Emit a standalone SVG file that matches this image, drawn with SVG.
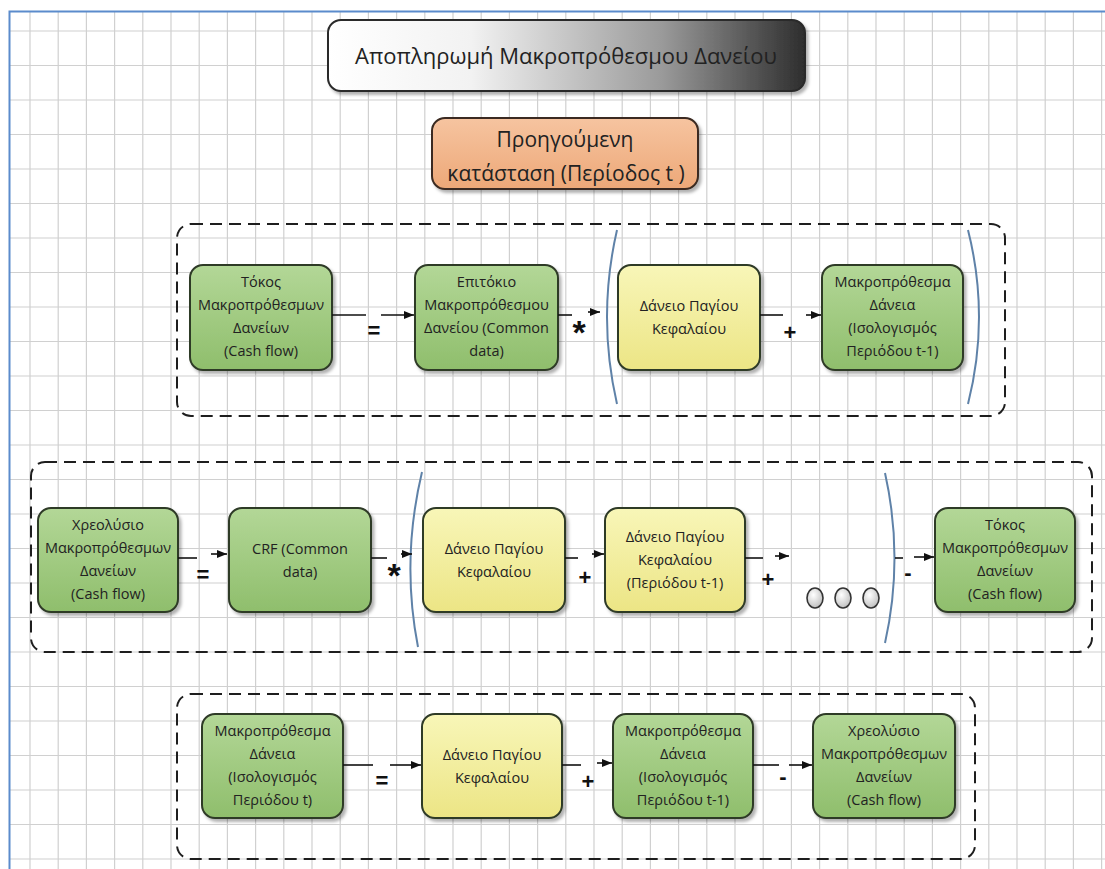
<svg xmlns="http://www.w3.org/2000/svg" width="1105" height="869" viewBox="0 0 1105 869">
<defs>
<style>
.grid{stroke:#d0d0d0;stroke-width:1.2;fill:none}
.node{stroke:#2f3a28;stroke-width:2}
.green{fill:url(#gGreen)}
.yellow{fill:url(#gYellow)}
.t{font-family:"Open Sans","Noto Sans",sans-serif;font-size:14.5px;fill:#222;text-anchor:middle}
.big{font-family:"Open Sans","Noto Sans",sans-serif;font-size:21px;fill:#222;text-anchor:middle}
.frame{fill:none;stroke:#1e1e1e;stroke-width:2;stroke-dasharray:12 7}
.paren{fill:none;stroke:#5f82a8;stroke-width:2}
.conn{fill:none;stroke:#111;stroke-width:1.6}
.arr{marker-end:url(#ah)}
.op{font-family:"Liberation Sans",Arial,sans-serif;font-weight:bold;font-size:22px;fill:#111;text-anchor:middle}
.star{font-family:"Liberation Sans",Arial,sans-serif;font-weight:bold;font-size:34px;fill:#111;text-anchor:middle}
</style>
<linearGradient id="gGreen" x1="0" y1="0" x2="0" y2="1">
<stop offset="0" stop-color="#b3d797"/><stop offset="1" stop-color="#8fbe6c"/>
</linearGradient>
<linearGradient id="gYellow" x1="0" y1="0" x2="0" y2="1">
<stop offset="0" stop-color="#f8f6b8"/><stop offset="1" stop-color="#ece585"/>
</linearGradient>
<linearGradient id="gTitle" x1="0" y1="0" x2="1" y2="0">
<stop offset="0" stop-color="#ffffff"/><stop offset="0.3" stop-color="#f2f2f2"/><stop offset="0.7" stop-color="#9a9a9a"/><stop offset="1" stop-color="#2e2e2e"/>
</linearGradient>
<linearGradient id="gOrange" x1="0" y1="0" x2="0" y2="1">
<stop offset="0" stop-color="#f6c4a0"/><stop offset="1" stop-color="#eda878"/>
</linearGradient>
<radialGradient id="gDot" cx="0.4" cy="0.35" r="0.7">
<stop offset="0" stop-color="#ffffff"/><stop offset="1" stop-color="#bdbdbd"/>
</radialGradient>
<filter id="sh" x="-10%" y="-10%" width="125%" height="130%">
<feDropShadow dx="2.5" dy="3" stdDeviation="1.5" flood-color="#000" flood-opacity="0.3"/>
</filter>
<marker id="ah" markerWidth="10" markerHeight="8" refX="10" refY="4" orient="auto" markerUnits="userSpaceOnUse">
<path d="M0,0 L10,4 L0,8 z" fill="#111"/>
</marker>
</defs>
<rect width="1105" height="869" fill="#ffffff"/>
<g id="grid">
<path class="grid" d="M30 11V869M58.2 11V869M86.4 11V869M114.6 11V869M142.8 11V869M171 11V869M199.2 11V869M227.4 11V869M255.6 11V869M283.8 11V869M312 11V869M340.2 11V869M368.4 11V869M396.6 11V869M424.8 11V869M453 11V869M481.2 11V869M509.4 11V869M537.6 11V869M565.8 11V869M594 11V869M622.2 11V869M650.4 11V869M678.6 11V869M706.8 11V869M735 11V869M763.2 11V869M791.4 11V869M819.6 11V869M847.8 11V869M876 11V869M904.2 11V869M932.4 11V869M960.6 11V869M988.8 11V869M1017 11V869M1045.2 11V869M1073.4 11V869M1101.6 11V869"/>
<path class="grid" d="M9 31H1105M9 65.5H1105M9 100H1105M9 134.5H1105M9 169H1105M9 203.5H1105M9 238H1105M9 272.5H1105M9 307H1105M9 341.5H1105M9 376H1105M9 410.5H1105M9 445H1105M9 479.5H1105M9 514H1105M9 548.5H1105M9 583H1105M9 617.5H1105M9 652H1105M9 686.5H1105M9 721H1105M9 755.5H1105M9 790H1105M9 824.5H1105M9 859H1105"/>
<path d="M9.5 869V11.5H1105" fill="none" stroke="#5b8bcc" stroke-width="2"/>
</g>
<g id="title">
<rect x="328" y="20" width="477" height="71" rx="13" fill="url(#gTitle)" stroke="#2a2a2a" stroke-width="2" filter="url(#sh)"/>
<text class="big" x="566" y="64" style="font-size:22px">Αποπληρωμή Μακροπρόθεσμου Δανείου</text>
</g>
<g id="previous-state">
<rect x="432" y="118" width="266" height="71" rx="13" fill="url(#gOrange)" stroke="#3b2b20" stroke-width="2" filter="url(#sh)"/>
<text class="big" x="565" y="147">Προηγούμενη</text>
<text class="big" x="566" y="181">κατάσταση (Περίοδος t )</text>
</g>
<g id="frames">
<rect class="frame" x="177" y="224" width="828" height="192" rx="14"/>
<rect class="frame" x="31" y="462" width="1061" height="190" rx="14"/>
<rect class="frame" x="177" y="694" width="798" height="165" rx="14"/>
</g>
<g id="parentheses">
<path class="paren" d="M617 230 Q597 317 617 404"/>
<path class="paren" d="M968 230 Q990 317 968 404"/>
<path class="paren" d="M422 472 Q401 560 418 647"/>
<path class="paren" d="M885 473 Q904 558 885 643"/>
</g>
<g id="r1-tokos">
<rect class="node green" x="190" y="265" width="142" height="105" rx="13" filter="url(#sh)"/>
<text class="t" x="261" y="287">Τόκος</text><text class="t" x="261" y="310">Μακροπρόθεσμων</text><text class="t" x="261" y="333">Δανείων</text><text class="t" x="261" y="356">(Cash flow)</text>
</g>
<g id="r1-epitokio">
<rect class="node green" x="415" y="265" width="143" height="105" rx="13" filter="url(#sh)"/>
<text class="t" x="486.5" y="287">Επιτόκιο</text><text class="t" x="486.5" y="310">Μακροπρόθεσμου</text><text class="t" x="486.5" y="333">Δανείου (Common</text><text class="t" x="486.5" y="356">data)</text>
</g>
<g id="r1-daneio">
<rect class="node yellow" x="618" y="265" width="142" height="105" rx="13" filter="url(#sh)"/>
<text class="t" x="689" y="311">Δάνειο Παγίου</text><text class="t" x="689" y="334">Κεφαλαίου</text>
</g>
<g id="r1-makro">
<rect class="node green" x="822" y="265" width="141" height="105" rx="13" filter="url(#sh)"/>
<text class="t" x="892.5" y="287">Μακροπρόθεσμα</text><text class="t" x="892.5" y="310">Δάνεια</text><text class="t" x="892.5" y="333">(Ισολογισμός</text><text class="t" x="892.5" y="356">Περιόδου t-1)</text>
</g>
<g id="r2-xreolysio">
<rect class="node green" x="38" y="508" width="140" height="104" rx="13" filter="url(#sh)"/>
<text class="t" x="108" y="530">Χρεολύσιο</text><text class="t" x="108" y="553">Μακροπρόθεσμων</text><text class="t" x="108" y="576">Δανείων</text><text class="t" x="108" y="599">(Cash flow)</text>
</g>
<g id="r2-crf">
<rect class="node green" x="229" y="508" width="142" height="104" rx="13" filter="url(#sh)"/>
<text class="t" x="300" y="554">CRF (Common</text><text class="t" x="300" y="577">data)</text>
</g>
<g id="r2-daneio">
<rect class="node yellow" x="423" y="508" width="142" height="104" rx="13" filter="url(#sh)"/>
<text class="t" x="494" y="554">Δάνειο Παγίου</text><text class="t" x="494" y="577">Κεφαλαίου</text>
</g>
<g id="r2-daneio-t1">
<rect class="node yellow" x="605" y="508" width="140" height="104" rx="13" filter="url(#sh)"/>
<text class="t" x="675" y="542">Δάνειο Παγίου</text><text class="t" x="675" y="565">Κεφαλαίου</text><text class="t" x="675" y="588">(Περιόδου t-1)</text>
</g>
<g id="r2-dots">
<ellipse cx="815" cy="598" rx="8" ry="10" fill="url(#gDot)" stroke="#333" stroke-width="1.6"/>
<ellipse cx="843" cy="598" rx="8" ry="10" fill="url(#gDot)" stroke="#333" stroke-width="1.6"/>
<ellipse cx="871" cy="598" rx="8" ry="10" fill="url(#gDot)" stroke="#333" stroke-width="1.6"/>
</g>
<g id="r2-tokos">
<rect class="node green" x="935" y="508" width="140" height="104" rx="13" filter="url(#sh)"/>
<text class="t" x="1005" y="530">Τόκος</text><text class="t" x="1005" y="553">Μακροπρόθεσμων</text><text class="t" x="1005" y="576">Δανείων</text><text class="t" x="1005" y="599">(Cash flow)</text>
</g>
<g id="r3-makro-t">
<rect class="node green" x="202" y="714" width="141" height="104" rx="13" filter="url(#sh)"/>
<text class="t" x="272.5" y="736">Μακροπρόθεσμα</text><text class="t" x="272.5" y="759">Δάνεια</text><text class="t" x="272.5" y="782">(Ισολογισμός</text><text class="t" x="272.5" y="805">Περιόδου t)</text>
</g>
<g id="r3-daneio">
<rect class="node yellow" x="422" y="714" width="140" height="104" rx="13" filter="url(#sh)"/>
<text class="t" x="492" y="760">Δάνειο Παγίου</text><text class="t" x="492" y="783">Κεφαλαίου</text>
</g>
<g id="r3-makro-t1">
<rect class="node green" x="613" y="714" width="140" height="104" rx="13" filter="url(#sh)"/>
<text class="t" x="683" y="736">Μακροπρόθεσμα</text><text class="t" x="683" y="759">Δάνεια</text><text class="t" x="683" y="782">(Ισολογισμός</text><text class="t" x="683" y="805">Περιόδου t-1)</text>
</g>
<g id="r3-xreolysio">
<rect class="node green" x="813" y="714" width="142" height="104" rx="13" filter="url(#sh)"/>
<text class="t" x="884" y="736">Χρεολύσιο</text><text class="t" x="884" y="759">Μακροπρόθεσμων</text><text class="t" x="884" y="782">Δανείων</text><text class="t" x="884" y="805">(Cash flow)</text>
</g>
<g id="connectors">
<path class="conn" d="M332 315H366"/><path class="conn arr" d="M381 315H414"/><text class="op" x="374" y="338">=</text>
<path class="conn" d="M558 315H572"/><path class="conn arr" d="M588 312H600"/><text class="star" x="579" y="344">*</text>
<path class="conn" d="M760 315H783"/><path class="conn arr" d="M806 315H821"/><text class="op" x="790" y="340">+</text>
<path class="conn" d="M178 558H197"/><path class="conn arr" d="M211 554H227"/><text class="op" x="203" y="582">=</text>
<path class="conn" d="M371 558H387"/><path class="conn arr" d="M401 554H412"/><text class="star" x="394" y="587">*</text>
<path class="conn" d="M565 558H578"/><path class="conn arr" d="M592 554H604"/><text class="op" x="585" y="585">+</text>
<path class="conn" d="M745 558H763"/><path class="conn arr" d="M775 556H789"/><text class="op" x="768" y="587">+</text>
<path class="conn" d="M895 558H903"/><path class="conn arr" d="M914 557H934"/><text class="op" x="908" y="580">-</text>
<path class="conn" d="M343 765H373"/><path class="conn arr" d="M390 765H421"/><text class="op" x="382" y="788">=</text>
<path class="conn" d="M562 765H581"/><path class="conn arr" d="M597 763H612"/><text class="op" x="588" y="789">+</text>
<path class="conn" d="M753 765H779"/><path class="conn arr" d="M789 765H812"/><text class="op" x="783" y="784">-</text>
</g>
</svg>
